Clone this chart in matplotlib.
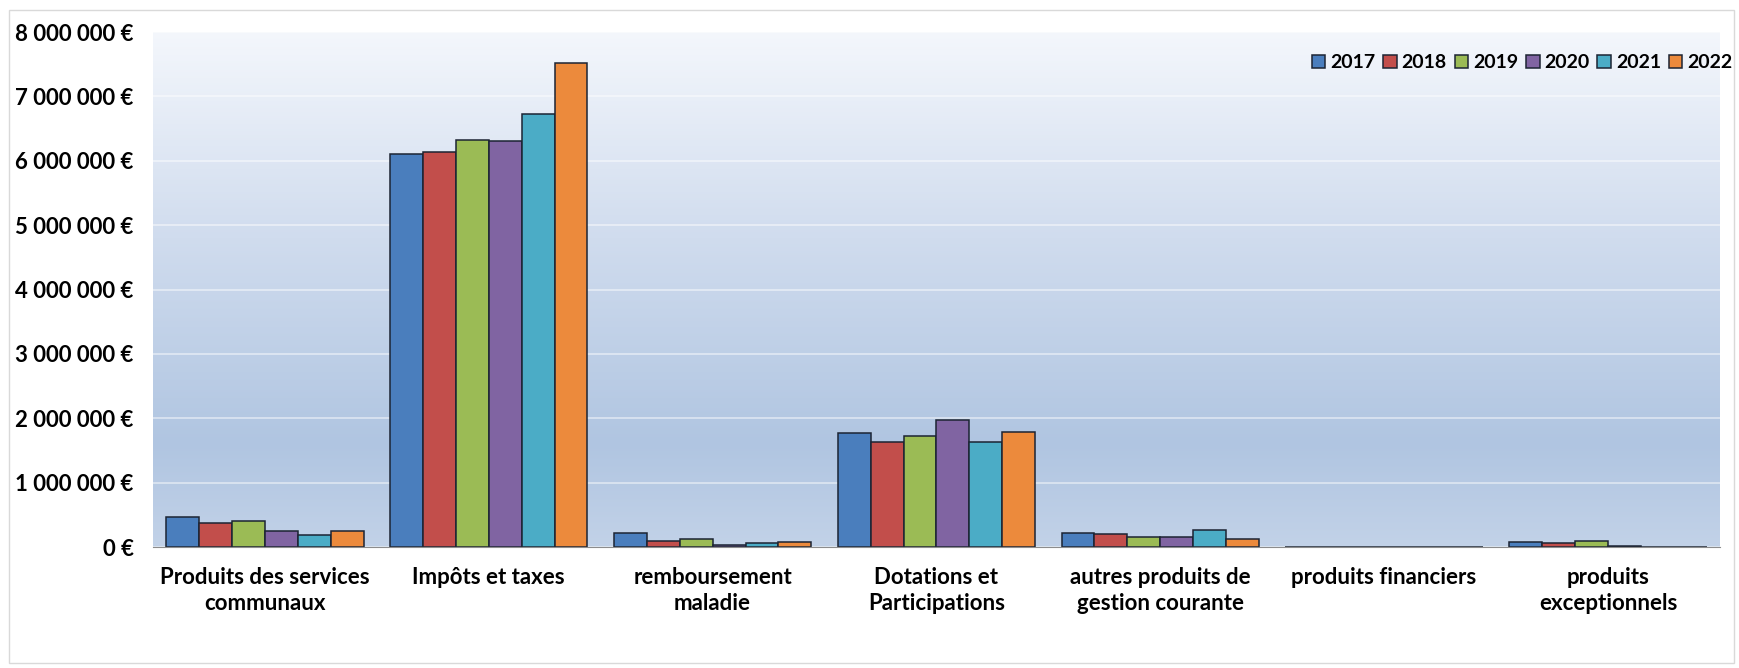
import numpy as np
import matplotlib.pyplot as plt
from matplotlib.colors import LinearSegmentedColormap
from matplotlib.patches import Rectangle
from matplotlib.ticker import FuncFormatter

plt.rcParams['font.family'] = ['Lato', 'DejaVu Sans']
plt.rcParams['font.weight'] = 'bold'

# Recettes de fonctionnement par chapitre (en €)
categories = [
    "Produits des services\ncommunaux",
    "Impôts et taxes",
    "remboursement\nmaladie",
    "Dotations et\nParticipations",
    "autres produits de\ngestion courante",
    "produits financiers",
    "produits\nexceptionnels",
]
years = ["2017", "2018", "2019", "2020", "2021", "2022"]

v2017 = [470000, 6110000, 220000, 1770000, 220000, 5000, 85000]
v2018 = [375000, 6140000, 90000, 1630000, 210000, 5000, 60000]
v2019 = [410000, 6330000, 130000, 1720000, 160000, 4000, 95000]
v2020 = [250000, 6310000, 40000, 1970000, 160000, 3000, 15000]
v2021 = [190000, 6730000, 70000, 1630000, 270000, 2000, 5000]
v2022 = [250000, 7520000, 80000, 1780000, 130000, 2000, 5000]
series = [v2017, v2018, v2019, v2020, v2021, v2022]

colors = ["#4A7EBD", "#C24E4B", "#9BBB55", "#8064A2", "#4BACC6", "#EC8A3C"]

fig = plt.figure(figsize=(17.39, 6.68), dpi=100)
ax = fig.add_axes([0.088, 0.181, 0.901, 0.771])

# cadre gris clair autour du graphique
fig.patches.append(Rectangle((0.005, 0.007), 0.992, 0.978, transform=fig.transFigure,
                             fill=False, edgecolor="#d9d9d9", linewidth=1.0))

# fond dégradé de la zone de traçage
grad = LinearSegmentedColormap.from_list(
    "fond", [(0.0, "#c2d2e8"), (0.2, "#b0c5e1"), (0.6, "#d0dcee"), (1.0, "#f4f7fc")])
ax.imshow(np.linspace(0, 1, 256).reshape(-1, 1), cmap=grad, origin="lower",
          extent=[0, 1, 0, 1], transform=ax.transAxes, aspect="auto", zorder=0)

x = np.arange(len(categories))
width = 0.147
for i, (yr, vals) in enumerate(zip(years, series)):
    offset = (i - 2.5) * width
    ax.bar(x + offset, vals, width, color=colors[i], edgecolor="#1c2433",
           linewidth=1.1, label=yr, zorder=3)

ax.set_xlim(-0.5, len(categories) - 0.5)
ax.set_ylim(0, 8000000)
ax.set_yticks(np.arange(0, 8000001, 1000000))
ax.yaxis.set_major_formatter(FuncFormatter(lambda v, p: f"{int(v):,} €".replace(",", " ")))
ax.grid(axis="y", color="white", alpha=0.55, linewidth=1.2, zorder=1)

ax.set_xticks(x)
ax.set_xticklabels(categories, fontsize=16, fontweight="bold", linespacing=1.3)
ax.tick_params(axis="x", length=0, pad=14)
ax.tick_params(axis="y", length=0, pad=14, labelsize=16)
for lbl in ax.get_yticklabels():
    lbl.set_fontweight("bold")

for side in ["top", "right", "left"]:
    ax.spines[side].set_visible(False)
ax.spines["bottom"].set_color("#8c8c8c")
ax.spines["bottom"].set_zorder(4)

leg = ax.legend(loc="center right", bbox_to_anchor=(1.013, 0.94), ncol=6, frameon=False,
                fontsize=14, handlelength=0.7, handleheight=0.7, handletextpad=0.25,
                columnspacing=0.4, borderaxespad=0)
for t in leg.get_texts():
    t.set_fontweight("bold")

fig.savefig("out.png", dpi=100)
